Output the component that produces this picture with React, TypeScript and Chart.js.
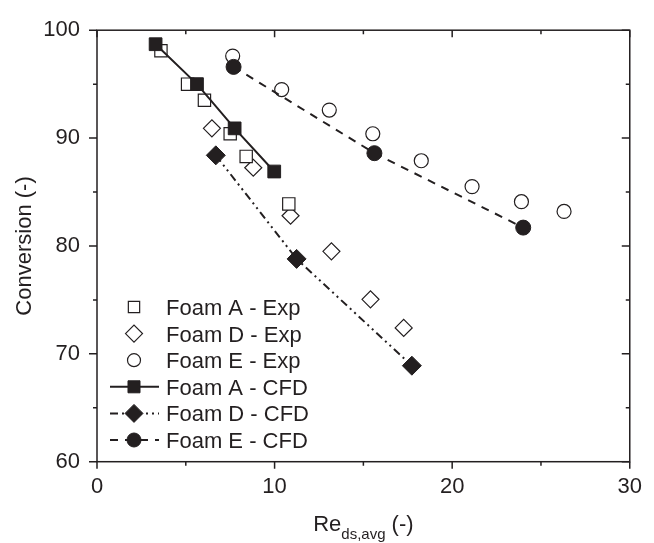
import React, { useEffect, useRef } from 'react';
import { Chart, registerables } from 'chart.js';
Chart.register(...registerables);

const foamAExpX = [3.6, 5.1, 6.05, 7.5, 8.4, 10.8];
const foamAExpY = [98.1, 95.0, 93.5, 90.4, 88.3, 83.9];
const foamDExpX = [6.47, 8.8, 10.9, 13.2, 15.4, 17.27];
const foamDExpY = [90.9, 87.25, 82.8, 79.5, 75.05, 72.4];
const foamEExpX = [7.64, 10.4, 13.08, 15.53, 18.26, 21.12, 23.9, 26.3];
const foamEExpY = [97.6, 94.5, 92.6, 90.4, 87.9, 85.5, 84.1, 83.2];
const foamACfdX = [3.3, 5.63, 7.75, 9.98];
const foamACfdY = [98.7, 95.0, 90.9, 86.9];
const foamDCfdX = [6.69, 11.24, 17.73];
const foamDCfdY = [88.4, 78.8, 68.9];
const foamECfdX = [7.69, 15.62, 24.0];
const foamECfdY = [96.6, 88.6, 81.7];

const xMajorTicks = [0, 10, 20, 30];
const xMinorTicks = [5, 15, 25];
const yMajorTicks = [60, 70, 80, 90, 100];
const yMinorTicks = [65, 75, 85, 95];

const seriesLabels = [
  'Foam A - Exp',
  'Foam D - Exp',
  'Foam E - Exp',
  'Foam A - CFD',
  'Foam D - CFD',
  'Foam E - CFD',
];

const INK = '#231f20';
const FONT = '"Liberation Sans", Arial, Helvetica, sans-serif';

const pts = (xs: number[], ys: number[]) => xs.map((x, i) => ({ x, y: ys[i] }));

function drawMarker(ctx: CanvasRenderingContext2D, style: string, r: number, x: number, y: number, fill: string, bw: number) {
  ctx.beginPath();
  if (style === 'rect') {
    const s = Math.SQRT1_2 * r;
    ctx.rect(x - s, y - s, 2 * s, 2 * s);
  } else if (style === 'rectRot') {
    ctx.moveTo(x - r, y);
    ctx.lineTo(x, y - r);
    ctx.lineTo(x + r, y);
    ctx.lineTo(x, y + r);
    ctx.closePath();
  } else {
    ctx.arc(x, y, r, 0, Math.PI * 2);
  }
  ctx.setLineDash([]);
  ctx.fillStyle = fill;
  ctx.fill();
  ctx.lineWidth = bw;
  ctx.strokeStyle = INK;
  ctx.stroke();
}

const framePlugin = {
  id: 'frameAndLegend',
  afterDraw(chart: any) {
    const { ctx, chartArea, scales } = chart;
    const { left, right, top, bottom } = chartArea;
    const xs = scales.x;
    const ys = scales.y;
    ctx.save();
    ctx.strokeStyle = INK;
    ctx.lineWidth = 1.5;
    ctx.setLineDash([]);
    ctx.strokeRect(left, top, right - left, bottom - top);
    ctx.beginPath();
    const xt = [...xMajorTicks.map((v) => [v, 7]), ...xMinorTicks.map((v) => [v, 4])];
    xt.forEach(([v, L]) => {
      const px = xs.getPixelForValue(v);
      ctx.moveTo(px, bottom);
      ctx.lineTo(px, bottom + L);
      ctx.moveTo(px, top);
      ctx.lineTo(px, top + L);
    });
    const yt = [...yMajorTicks.map((v) => [v, 8]), ...yMinorTicks.map((v) => [v, 4])];
    yt.forEach(([v, L]) => {
      const py = ys.getPixelForValue(v);
      ctx.moveTo(left, py);
      ctx.lineTo(left - L, py);
      ctx.moveTo(right, py);
      ctx.lineTo(right - L, py);
    });
    ctx.stroke();

    // x-axis title with subscript
    ctx.fillStyle = INK;
    ctx.textBaseline = 'alphabetic';
    const big = `22px ${FONT}`;
    const small = `15px ${FONT}`;
    ctx.font = big;
    const wRe = ctx.measureText('Re').width;
    const wTail = ctx.measureText(' (-)').width;
    ctx.font = small;
    const wSub = ctx.measureText('ds,avg').width;
    const total = wRe + wSub + wTail;
    let cx = (left + right) / 2 - total / 2;
    const base = 531;
    ctx.font = big;
    ctx.textAlign = 'left';
    ctx.fillText('Re', cx, base);
    cx += wRe;
    ctx.font = small;
    ctx.fillText('ds,avg', cx, base + 8);
    cx += wSub;
    ctx.font = big;
    ctx.fillText(' (-)', cx, base);

    // legend
    const rowY0 = 307;
    const rowStep = 26.6;
    chart.data.datasets.forEach((ds: any, i: number) => {
      const ry = rowY0 + i * rowStep;
      const mx = 134;
      if (ds.showLine) {
        ctx.beginPath();
        ctx.setLineDash(ds.borderDash || []);
        ctx.lineWidth = ds.borderWidth;
        ctx.strokeStyle = INK;
        ctx.moveTo(110, ry);
        ctx.lineTo(159, ry);
        ctx.stroke();
      }
      drawMarker(ctx, ds.pointStyle, ds.legendRadius, mx, ry, ds.pointBackgroundColor, ds.pointBorderWidth);
      ctx.setLineDash([]);
      ctx.fillStyle = INK;
      ctx.font = big;
      ctx.textAlign = 'left';
      ctx.textBaseline = 'alphabetic';
      ctx.fillText(ds.label, 166, ry + 8);
    });
    ctx.restore();
  },
};

export default function App() {
  const ref = useRef<HTMLCanvasElement | null>(null);
  useEffect(() => {
    if (!ref.current) return;
    const open = (label: string, data: any, style: string, r: number, lr: number) => ({
      label,
      data,
      showLine: false,
      pointStyle: style,
      pointRadius: r,
      legendRadius: lr,
      pointBackgroundColor: '#ffffff',
      pointBorderColor: INK,
      pointBorderWidth: 1.2,
      borderColor: INK,
      order: 1,
    });
    const filled = (label: string, data: any, style: string, r: number, lr: number, dash: number[]) => ({
      label,
      data,
      showLine: true,
      borderColor: INK,
      borderWidth: 2,
      borderDash: dash,
      pointStyle: style,
      pointRadius: r,
      legendRadius: lr,
      pointBackgroundColor: INK,
      pointBorderColor: INK,
      pointBorderWidth: 1,
      tension: 0,
      order: 0,
    });
    const chart = new Chart(ref.current, {
      type: 'line',
      data: {
        datasets: [
          open(seriesLabels[0], pts(foamAExpX, foamAExpY), 'rect', 8.7, 8),
          open(seriesLabels[1], pts(foamDExpX, foamDExpY), 'rectRot', 8.5, 8.5),
          open(seriesLabels[2], pts(foamEExpX, foamEExpY), 'circle', 7, 6.5),
          filled(seriesLabels[3], pts(foamACfdX, foamACfdY), 'rect', 9, 8.5, []),
          filled(seriesLabels[4], pts(foamDCfdX, foamDCfdY), 'rectRot', 9.5, 9, [8, 4, 2, 4, 2, 4]),
          filled(seriesLabels[5], pts(foamECfdX, foamECfdY), 'circle', 7.5, 7, [8, 7]),
        ] as any,
      },
      options: {
        responsive: false,
        animation: false,
        events: [],
        layout: { padding: { left: 0, right: 15, top: 24.7, bottom: 0 } },
        plugins: { legend: { display: false }, tooltip: { enabled: false } },
        scales: {
          x: {
            type: 'linear',
            min: 0,
            max: 30,
            afterBuildTicks: (s: any) => {
              s.ticks = xMajorTicks.map((v) => ({ value: v }));
            },
            afterFit: (s: any) => {
              s.height = 543 - 461.7;
            },
            grid: { display: false, drawTicks: false },
            border: { display: false },
            ticks: { color: INK, font: { family: FONT, size: 22 }, padding: 12, maxRotation: 0 },
          },
          y: {
            type: 'linear',
            min: 60,
            max: 100,
            afterBuildTicks: (s: any) => {
              s.ticks = yMajorTicks.map((v) => ({ value: v }));
            },
            afterFit: (s: any) => {
              s.width = 97;
            },
            grid: { display: false, drawTicks: false },
            border: { display: false },
            ticks: { color: INK, font: { family: FONT, size: 22 }, padding: 17 },
            title: {
              display: true,
              text: 'Conversion (-)',
              color: INK,
              font: { family: FONT, size: 22 },
              padding: { top: 12, bottom: 0 },
            },
          },
        },
      } as any,
      plugins: [framePlugin],
    });
    return () => chart.destroy();
  }, []);
  return (
    <div style={{ position: 'absolute', left: 0, top: 0, width: 654, height: 543, background: '#fff' }}>
      <canvas ref={ref} width={654} height={543} />
    </div>
  );
}
